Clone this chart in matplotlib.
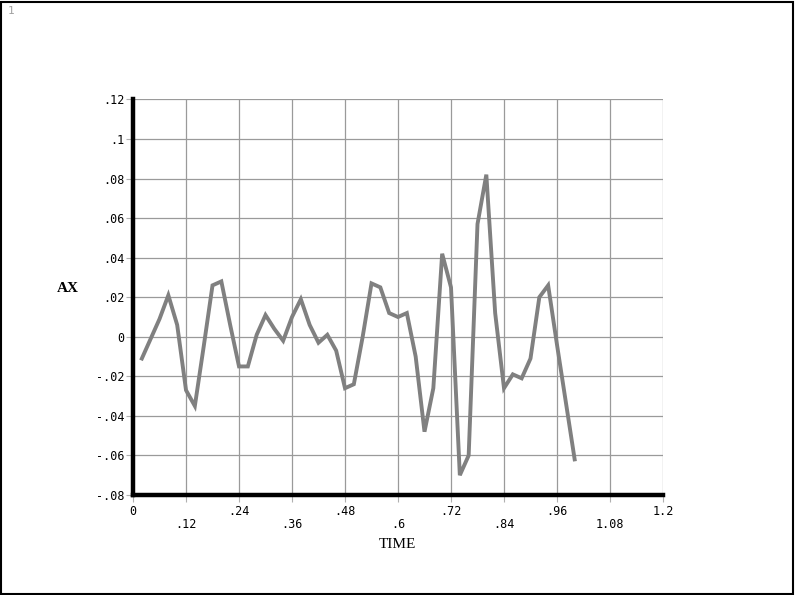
import numpy as np
import matplotlib
matplotlib.use('Agg')
import matplotlib.pyplot as plt
from matplotlib.patches import Rectangle

# time history (0.02 s steps)
time = [0.02, 0.04, 0.06, 0.08, 0.10, 0.12, 0.14, 0.16, 0.18, 0.20,
        0.22, 0.24, 0.26, 0.28, 0.30, 0.32, 0.34, 0.36, 0.38, 0.40,
        0.42, 0.44, 0.46, 0.48, 0.50, 0.52, 0.54, 0.56, 0.58, 0.60,
        0.62, 0.64, 0.66, 0.68, 0.70, 0.72, 0.74, 0.76, 0.78, 0.80,
        0.82, 0.84, 0.86, 0.88, 0.90, 0.92, 0.94, 0.96, 0.98, 1.00]
ax_vals = [-0.011, -0.001, 0.009, 0.021, 0.006, -0.027, -0.035, -0.005, 0.026, 0.028,
           0.006, -0.015, -0.015, 0.001, 0.011, 0.004, -0.002, 0.010, 0.019, 0.006,
           -0.003, 0.001, -0.007, -0.026, -0.024, 0.000, 0.027, 0.025, 0.012, 0.010,
           0.012, -0.010, -0.048, -0.026, 0.042, 0.025, -0.070, -0.060, 0.057, 0.082,
           0.012, -0.026, -0.019, -0.021, -0.011, 0.020, 0.026, -0.004, -0.033, -0.062]

x_ticks = [0, 0.12, 0.24, 0.36, 0.48, 0.6, 0.72, 0.84, 0.96, 1.08, 1.2]
x_labels = ['0', '.12', '.24', '.36', '.48', '.6', '.72', '.84', '.96', '1.08', '1.2']
y_ticks = [-0.08, -0.06, -0.04, -0.02, 0, 0.02, 0.04, 0.06, 0.08, 0.1, 0.12]
y_labels = ['-.08', '-.06', '-.04', '-.02', '0', '.02', '.04', '.06', '.08', '.1', '.12']

fig = plt.figure(figsize=(7.96, 5.95), dpi=100)
ax = fig.add_axes([0.1671, 0.1681, 0.6658, 0.6647])

ax.plot(time, ax_vals, color='#808080', lw=2.8, solid_joinstyle='miter')

ax.set_xlim(0, 1.2)
ax.set_ylim(-0.08, 0.12)
ax.set_xticks(x_ticks)
ax.set_yticks(y_ticks)
ax.set_yticklabels(y_labels, family='DejaVu Sans Mono', fontsize=8.5)
ax.set_xticklabels([])
ax.grid(True, color='#9a9a9a', lw=0.9)
ax.tick_params(axis='both', direction='out', length=5, width=0.8, color='#b0b0b0', pad=1)

# staggered x tick labels
for i, (t, lab) in enumerate(zip(x_ticks, x_labels)):
    dy = -17 if i % 2 == 0 else -30
    ax.annotate(lab, (t, -0.08), xytext=(0, dy), textcoords='offset pixels',
                ha='center', va='center', family='DejaVu Sans Mono', fontsize=8.5)

for side in ['top', 'right']:
    ax.spines[side].set_visible(False)
for side in ['left', 'bottom']:
    ax.spines[side].set_linewidth(3.2)
    ax.spines[side].set_color('black')

fig.text(68 / 796, 1 - 288 / 595, 'AX', family='Liberation Serif', fontsize=11,
         fontweight='bold', ha='center', va='center')
fig.text(397 / 796, 1 - 545 / 595, 'TIME', family='Liberation Serif', fontsize=11,
         ha='center', va='center')
fig.text(11 / 796, 1 - 11 / 595, '1', family='DejaVu Sans Mono', fontsize=8,
         color='#a0a0a0', ha='center', va='center')

fig.patches.append(Rectangle((0.001, 0.002), 0.995, 0.995, transform=fig.transFigure,
                             fill=False, edgecolor='black', lw=1.5))

fig.savefig('out.png', dpi=100)
